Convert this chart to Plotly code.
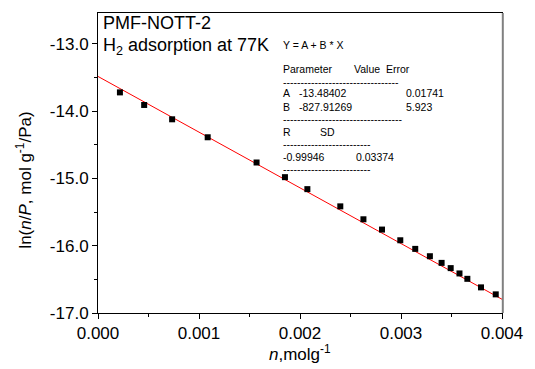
import plotly.graph_objects as go
import numpy as np

# Data
n_vals = [0.000217, 0.000457, 0.000734, 0.001086, 0.001570, 0.001851, 0.002073,
          0.002399, 0.002628, 0.002812, 0.002993, 0.003141, 0.003286, 0.003402,
          0.003492, 0.003579, 0.003657, 0.003792, 0.003938]
ln_vals = [-13.721, -13.908, -14.121, -14.388, -14.763, -14.981, -15.159,
           -15.415, -15.607, -15.760, -15.919, -16.047, -16.156, -16.255,
           -16.333, -16.412, -16.492, -16.619, -16.723]

# Linear fit parameters shown in the chart
fit_A = -13.48402
fit_B = -827.91269
fit_x = [0.0, 0.004]
fit_y = [fit_A + fit_B * x for x in fit_x]

x_ticks = [0.000, 0.001, 0.002, 0.003, 0.004]
x_ticklabels = ["0.000", "0.001", "0.002", "0.003", "0.004"]
y_ticks = [-17.0, -16.0, -15.0, -14.0, -13.0]
y_ticklabels = ["-17.0", "-16.0", "-15.0", "-14.0", "-13.0"]

W, H = 535, 369
L, R, T, B = 97.5, 510.75, 12, 313

FONT = "Liberation Sans, Arial, sans-serif"

fig = go.Figure()
fig.add_trace(go.Scatter(x=fit_x, y=fit_y, mode="lines",
                         line=dict(color="#ff0000", width=1), showlegend=False))
fig.add_trace(go.Scatter(x=n_vals, y=ln_vals, mode="markers",
                         marker=dict(symbol="square", size=6, color="black"),
                         showlegend=False))

def px(x):
    return (x - L) / (R - L)

def py(y):
    return (B - y) / (B - T)

annotations = []
def txt(text, x, y, size, xanchor="left", yanchor="middle", **kw):
    annotations.append(dict(text=text, x=px(x), y=py(y), xref="paper", yref="paper",
                            showarrow=False, xanchor=xanchor, yanchor=yanchor,
                            font=dict(family=FONT, size=size, color="black"), **kw))

txt("PMF-NOTT-2", 101, 22, 18)
txt("H<sub>2</sub> adsorption at 77K", 101, 46, 18)

ts = 10.5
txt("Y = A + B * X", 285, 44, ts)
txt("Parameter", 285, 68, ts)
txt("Value", 357, 68, ts)
txt("Error", 390, 68, ts)
txt("-" * 33, 285, 81, ts)
txt("A", 285, 92, ts)
txt("-13.48402", 301, 92, ts)
txt("0.01741", 410, 92, ts)
txt("B", 285, 106, ts)
txt("-827.91269", 301, 106, ts)
txt("5.923", 410, 106, ts)
txt("-" * 34, 285, 118, ts)
txt("R", 285, 131, ts)
txt("SD", 323, 131, ts)
txt("-" * 25, 285, 143, ts)
txt("-0.99946", 285, 156, ts)
txt("0.03374", 359, 156, ts)
txt("-" * 25, 285, 169, ts)

# axis titles
txt("ln(<i>n</i>/<i>P</i>, mol g<sup>-1</sup>/Pa)", 22, 180, 17, xanchor="center",
    textangle=-90)
txt("<i>n</i>,molg<sup>-1</sup>", 304, 353, 17, xanchor="center")

axis_common = dict(showgrid=False, zeroline=False, showline=True, linecolor="black",
                   linewidth=1, mirror=True, ticks="outside", ticklen=5,
                   tickwidth=1, tickcolor="black",
                   tickfont=dict(family=FONT, size=17, color="black"))

fig.update_layout(
    width=W, height=H,
    margin=dict(l=L, r=W - R, t=T, b=H - B, pad=0),
    paper_bgcolor="white", plot_bgcolor="white",
    xaxis=dict(range=[0, 0.004], tickvals=x_ticks, ticktext=x_ticklabels,
               minor=dict(ticks="outside", ticklen=3, dtick=0.0005, tickcolor="black"),
               **axis_common),
    yaxis=dict(range=[-17.0, -12.541], tickvals=y_ticks, ticktext=y_ticklabels,
               minor=dict(ticks="outside", ticklen=3, dtick=0.5, tickcolor="black"),
               **axis_common),
    annotations=annotations,
    shapes=[dict(type="line", xref="paper", yref="paper", x0=1.002, x1=1.002, y0=0, y1=1,
                 line=dict(color="#808080", width=2))],
)

fig.write_html("out.html")
